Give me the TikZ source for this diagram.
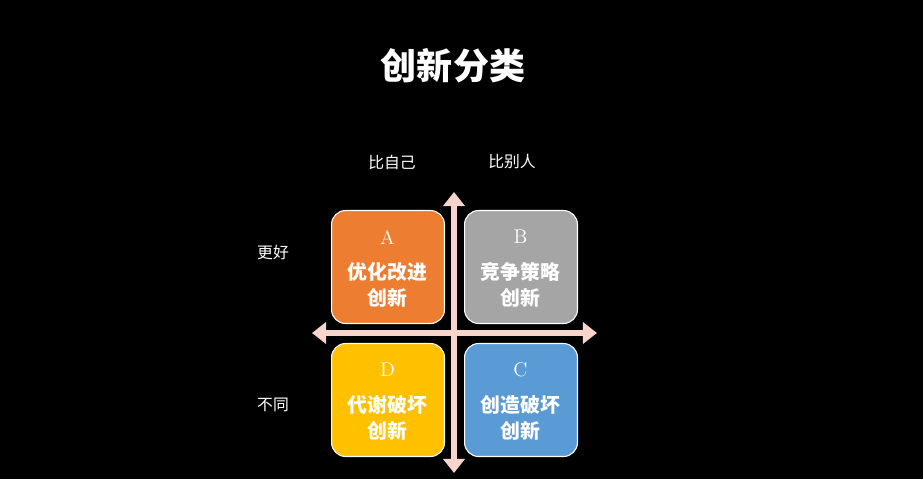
\documentclass[tikz,border=0pt]{standalone}
\usepackage{fontspec}
\newfontfamily\cjk{Noto Sans CJK SC}
\usetikzlibrary{arrows.meta}
\definecolor{cA}{HTML}{ED7D31}
\definecolor{cB}{HTML}{A5A5A5}
\definecolor{cC}{HTML}{5B9BD5}
\definecolor{cD}{HTML}{FFC000}
\definecolor{pk}{HTML}{F8D5CC}
\begin{document}
\begin{tikzpicture}[x=0.02cm,y=-0.02cm,
  box/.style={draw=white,line width=0.6pt,rounded corners=8pt,minimum width=2.26cm,minimum height=2.26cm,anchor=north west,inner sep=0pt},
  lbl/.style={text=white,font=\cjk\fontsize{9}{11}\selectfont},
  btxt/.style={text=white,font=\cjk\fontsize{11.3}{14.5}\selectfont\bfseries,align=center},
  let/.style={text=white,font=\fontsize{11.3}{13}\selectfont},
  arr/.style={pk,line width=3.4pt,{Triangle[length=8pt,width=12pt]}-{Triangle[length=8pt,width=12pt]}}]
\fill[black] (0,0) rectangle (923,479);
\node[text=white,font=\cjk\fontsize{20.5}{24}\selectfont\bfseries] (t) at (453,66) {创新分类};
\node[lbl] (l1) at (392,162) {比自己};
\node[lbl] (l2) at (512,162) {比别人};
\node[lbl] (l3) at (273,253) {更好};
\node[lbl] (l4) at (273,405) {不同};
\node[box,fill=cA] (A) at (331,210) {};
\node[box,fill=cB] (B) at (464,210) {};
\node[box,fill=cD] (D) at (331,343) {};
\node[box,fill=cC] (C) at (464,343) {};
\coordinate (vt) at (454,192); \coordinate (vb) at (454,473);
\coordinate (hl) at (312,333); \coordinate (hr) at (597,333);
\draw[arr] (vt) -- (vb);
\draw[arr] (hl) -- (hr);
\node[let] at (387.5,237) {A};
\node[let] at (520.5,237) {B};
\node[let] at (387.5,370) {D};
\node[let] at (520.5,370) {C};
\node[btxt] at (387.5,285) {优化改进\\创新};
\node[btxt] at (520.5,285) {竞争策略\\创新};
\node[btxt] at (387.5,418) {代谢破坏\\创新};
\node[btxt] at (520.5,418) {创造破坏\\创新};
\end{tikzpicture}
\end{document}
